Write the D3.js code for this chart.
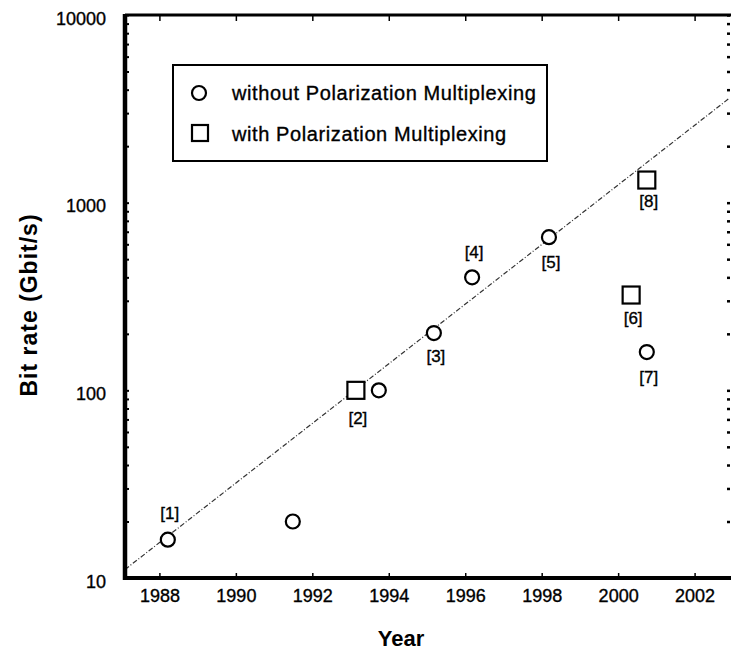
<!DOCTYPE html>
<html>
<head>
<meta charset="utf-8">
<script src="https://cdn.jsdelivr.net/npm/d3@7"></script>
<style>
    body { margin: 0; background: #fff; }
    svg { display: block; font-family: "Liberation Sans", Arial, Helvetica, sans-serif; }
    .tick text, text.ref, .legend text { fill: #000; stroke: #000; stroke-width: 0.35px; }
</style>
</head>
<body>
<div id="chart"></div>
<script>
// experiments without polarization multiplexing (year, Gbit/s)
const withoutYears = [1988.22, 1991.49, 1993.74, 1995.18, 1996.18, 1998.19, 2000.75];
const withoutRates = [16, 20, 100, 202, 400, 655, 160];
const withoutRefs = ["[1]", "", "", "[3]", "[4]", "[5]", "[7]"];

// experiments with polarization multiplexing
const withYears = [1993.14, 2000.34, 2000.75];
const withRates = [100, 322, 1320];
const withRefs = ["[2]", "[6]", "[8]"];

// trend line end points
const trendYears = [1987.1, 2002.9];
const trendRates = [11.1, 3590];

const xTickYears = [1988, 1990, 1992, 1994, 1996, 1998, 2000, 2002];
const yTickValues = [10, 100, 1000, 10000];

const legendLabels = ["without Polarization Multiplexing", "with Polarization Multiplexing"];

const W = 731, H = 650;
const margin = {top: 15, right: 2, bottom: 72, left: 125};
const width = W - margin.left - margin.right;
const height = H - margin.top - margin.bottom;

// label placement (above / below the marker), px from centre
const refOffset = {"[1]": -27, "[2]": 28, "[3]": 23, "[4]": -25, "[5]": 25, "[6]": 23, "[7]": 25, "[8]": 21};

const svg = d3.select("#chart").append("svg")
    .attr("width", W)
    .attr("height", H);

const g = svg.append("g")
    .attr("transform", "translate(" + margin.left + "," + margin.top + ")");

const x = d3.scaleLinear().domain([1987.1, 2002.9]).range([0, width]);
const y = d3.scaleLog().domain([10, 10000]).range([height, 0]);

// trend line
const trend = trendYears.map((t, i) => ({year: t, rate: trendRates[i]}));
g.append("path")
    .datum(trend)
    .attr("fill", "none")
    .attr("stroke", "#333")
    .attr("stroke-width", 1.2)
    .attr("stroke-dasharray", "5,2,1,2")
    .attr("d", d3.line().x(d => x(d.year)).y(d => y(d.rate)));

// axes
const yMinor = y.ticks();
g.append("g")
    .attr("class", "yAxis")
    .call(d3.axisRight(y).tickValues(yMinor).tickSize(4).tickFormat(""))
    .call(a => a.select(".domain").remove())
    .call(a => a.selectAll("line").attr("stroke-width", 2));

g.append("g")
    .attr("class", "yLabels")
    .call(d3.axisLeft(y).tickValues(yTickValues).tickSize(0).tickPadding(19).tickFormat(d3.format("d")))
    .call(a => a.select(".domain").remove())
    .call(a => a.selectAll("text").attr("font-size", 18).attr("dy", "0.5em").attr("font-family", "Liberation Sans, Arial, sans-serif"));

// right side: ticks only, the edge is cut
g.append("g")
    .attr("transform", "translate(" + (width - 2) + ",0)")
    .call(d3.axisLeft(y).tickValues(yMinor).tickSize(3).tickFormat(""))
    .call(a => a.select(".domain").remove())
    .call(a => a.selectAll("line").attr("stroke-width", 2.5).attr("transform", "translate(3,0)"));

g.append("g")
    .attr("class", "xAxis")
    .attr("transform", "translate(0," + height + ")")
    .call(d3.axisTop(x).tickValues(xTickYears).tickSize(5).tickFormat(""))
    .call(a => a.select(".domain").remove())
    .call(a => a.selectAll("line").attr("stroke-width", 1.5));

g.append("g")
    .attr("transform", "translate(0," + height + ")")
    .call(d3.axisBottom(x).tickValues(xTickYears).tickSize(0).tickPadding(11).tickFormat(d3.format("d")))
    .call(a => a.select(".domain").remove())
    .call(a => a.selectAll("text").attr("font-size", 18).attr("font-family", "Liberation Sans, Arial, sans-serif"));

g.append("g")
    .call(d3.axisBottom(x).tickValues(xTickYears).tickSize(6).tickFormat(""))
    .call(a => a.select(".domain").remove())
    .call(a => a.selectAll("line").attr("stroke-width", 1.5));

// frame lines
g.append("line").attr("x1", 0).attr("x2", width + 2).attr("y1", 0).attr("y2", 0)
    .attr("stroke", "#000").attr("stroke-width", 3);
g.append("line").attr("x1", -2).attr("x2", width + 2).attr("y1", height).attr("y2", height)
    .attr("stroke", "#000").attr("stroke-width", 4);
g.append("line").attr("x1", 0).attr("x2", 0).attr("y1", -1).attr("y2", height + 2)
    .attr("stroke", "#000").attr("stroke-width", 4.5);

// points without PM
const pts1 = withoutYears.map((t, i) => ({year: t, rate: withoutRates[i], ref: withoutRefs[i]}));
g.selectAll("circle.pt")
    .data(pts1)
    .join("circle")
    .attr("class", "pt")
    .attr("cx", d => x(d.year))
    .attr("cy", d => y(d.rate))
    .attr("r", 7)
    .attr("fill", "#fff")
    .attr("stroke", "#000")
    .attr("stroke-width", 2.2);

// points with PM
const sq = 17;
const pts2 = withYears.map((t, i) => ({year: t, rate: withRates[i], ref: withRefs[i]}));
g.selectAll("rect.pt")
    .data(pts2)
    .join("rect")
    .attr("class", "pt")
    .attr("x", d => x(d.year) - sq / 2)
    .attr("y", d => y(d.rate) - sq / 2)
    .attr("width", sq)
    .attr("height", sq)
    .attr("fill", "#fff")
    .attr("stroke", "#000")
    .attr("stroke-width", 2.2);

// reference labels
g.selectAll("text.ref")
    .data(pts1.concat(pts2).filter(d => d.ref !== ""))
    .join("text")
    .attr("class", "ref")
    .attr("x", d => x(d.year) + 2)
    .attr("y", d => y(d.rate) + refOffset[d.ref])
    .attr("dy", "0.35em")
    .attr("text-anchor", "middle")
    .attr("font-size", 17)
    .text(d => d.ref);

// legend
const legend = svg.append("g").attr("class", "legend").attr("transform", "translate(173,65)");
legend.append("rect")
    .attr("width", 374)
    .attr("height", 96)
    .attr("fill", "#fff")
    .attr("stroke", "#000")
    .attr("stroke-width", 2);
legend.append("circle")
    .attr("cx", 26).attr("cy", 28).attr("r", 7)
    .attr("fill", "none").attr("stroke", "#000").attr("stroke-width", 2.2);
legend.append("rect")
    .attr("x", 19).attr("y", 60).attr("width", 16).attr("height", 16)
    .attr("fill", "none").attr("stroke", "#000").attr("stroke-width", 2.2);
legend.selectAll("text")
    .data(legendLabels)
    .join("text")
    .attr("x", 59)
    .attr("y", (d, i) => 28 + i * 41)
    .attr("dy", "0.35em")
    .attr("font-size", 20)
    .attr("letter-spacing", 0.6)
    .text(d => d);

// axis titles
svg.append("text")
    .attr("x", 401)
    .attr("y", 646)
    .attr("text-anchor", "middle")
    .attr("font-size", 22)
    .attr("font-weight", "bold")
    .text("Year");

svg.append("text")
    .attr("transform", "translate(37,305) rotate(-90)")
    .attr("text-anchor", "middle")
    .attr("font-size", 23)
    .attr("font-weight", "bold")
    .attr("letter-spacing", 1)
    .text("Bit rate (Gbit/s)");
</script>
</body>
</html>
